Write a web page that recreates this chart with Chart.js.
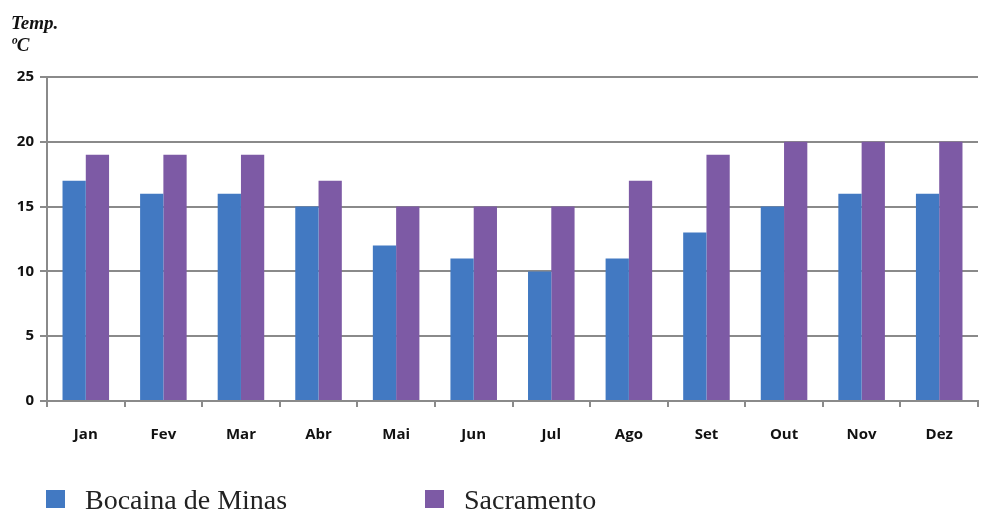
<!DOCTYPE html>
<html>
<head>
<meta charset="utf-8">
<script src="https://cdn.jsdelivr.net/npm/chart.js@4"></script>
<style>
  html, body { margin: 0; padding: 0; background: #fff; }
  #wrap { width: 988px; height: 512px; position: relative; }
</style>
</head>
<body>
<div id="wrap"><canvas id="tempChart" width="988" height="512"></canvas></div>
<script>
const months = ['Jan','Fev','Mar','Abr','Mai','Jun','Jul','Ago','Set','Out','Nov','Dez'];
const bocaina = [17,16,16,15,12,11,10,11,13,15,16,16];
const sacramento = [19,19,19,17,15,15,15,17,19,20,20,20];
const yTicks = [0,5,10,15,20,25];

const gridGray = '#8a8a8a';

// axis title top-left and the wide-spaced legend under the axis
const extras = {
  id: 'extras',
  afterDraw(chart) {
    const c = chart.ctx;
    c.save();
    c.fillStyle = '#111';
    c.font = 'italic bold 19px "Liberation Serif", serif';
    c.textBaseline = 'alphabetic';
    c.textAlign = 'left';
    c.fillText('Temp.', 11, 29);
    c.fillText('\u00baC', 11, 51);

    const slots = [46, 425];
    chart.data.datasets.forEach((ds, i) => {
      const x = slots[i];
      c.fillStyle = ds.backgroundColor;
      c.fillRect(x, 490, 19, 18);
      c.fillStyle = '#222';
      c.font = '28px "Liberation Serif", serif';
      c.fillText(ds.label, x + 39, 509);
    });
    c.restore();
  }
};

new Chart(document.getElementById('tempChart').getContext('2d'), {
  type: 'bar',
  data: {
    labels: months,
    datasets: [
      { label: 'Bocaina de Minas', data: bocaina, backgroundColor: '#4279c2' },
      { label: 'Sacramento', data: sacramento, backgroundColor: '#7d5aa5' }
    ]
  },
  options: {
    responsive: false,
    animation: false,
    layout: { padding: { top: 77, right: 10, left: 0, bottom: 0 } },
    datasets: { bar: { categoryPercentage: 0.6, barPercentage: 1.0 } },
    scales: {
      x: {
        afterFit(scale) { scale.height = 111; },
        grid: { drawOnChartArea: false, drawTicks: true, tickLength: 6, color: gridGray, lineWidth: 2, offset: true },
        border: { color: gridGray, width: 2 },
        ticks: { color: '#111', padding: 19, font: { family: '"Open Sans", sans-serif', size: 15, weight: 'bold' } }
      },
      y: {
        min: 0,
        max: 25,
        afterFit(scale) { scale.width = 47; },
        afterBuildTicks(scale) { scale.ticks = yTicks.map(v => ({ value: v })); },
        grid: { color: gridGray, lineWidth: 2, tickLength: 7 },
        border: { color: gridGray, width: 2 },
        ticks: { color: '#111', padding: 6, font: { family: '"Open Sans", sans-serif', size: 15, weight: 'bold' } }
      }
    },
    plugins: {
      legend: { display: false },
      tooltip: { enabled: false }
    }
  },
  plugins: [extras]
});
</script>
</body>
</html>
